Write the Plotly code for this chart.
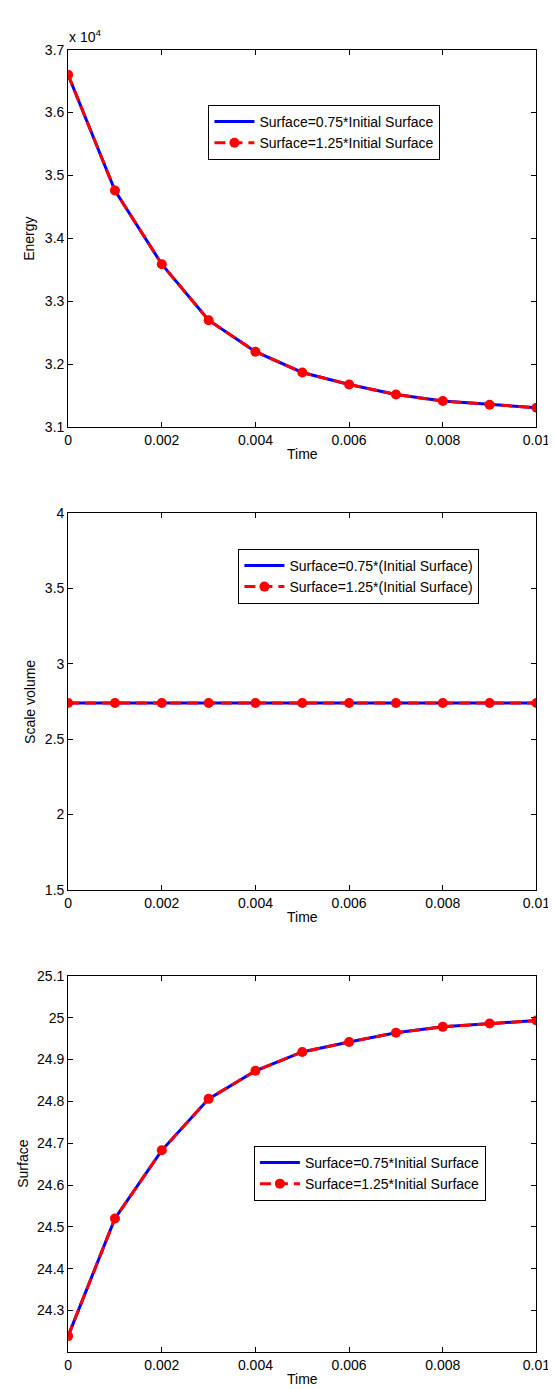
import plotly.graph_objects as go

# ---------------- data ----------------
time = [0, 0.001, 0.002, 0.003, 0.004, 0.005, 0.006, 0.007, 0.008, 0.009, 0.01]

energy_075 = [36600, 34760, 33590, 32700, 32200, 31870, 31680, 31520, 31415, 31357, 31310]
energy_125 = [36600, 34760, 33590, 32700, 32200, 31870, 31680, 31520, 31415, 31357, 31310]

volume_075 = [2.74, 2.74, 2.74, 2.74, 2.74, 2.74, 2.74, 2.74, 2.74, 2.74, 2.74]
volume_125 = [2.74, 2.74, 2.74, 2.74, 2.74, 2.74, 2.74, 2.74, 2.74, 2.74, 2.74]

surface_075 = [24.239, 24.52, 24.683, 24.806, 24.873, 24.918, 24.942, 24.964, 24.978, 24.986, 24.993]
surface_125 = [24.239, 24.52, 24.683, 24.806, 24.873, 24.918, 24.942, 24.964, 24.978, 24.986, 24.993]

x_ticks = [0, 0.002, 0.004, 0.006, 0.008, 0.01]
x_ticktext = ["0", "0.002", "0.004", "0.006", "0.008", "0.01"]

energy_ticks = [31000, 32000, 33000, 34000, 35000, 36000, 37000]
energy_ticktext = ["3.1", "3.2", "3.3", "3.4", "3.5", "3.6", "3.7"]

volume_ticks = [1.5, 2, 2.5, 3, 3.5, 4]
volume_ticktext = ["1.5", "2", "2.5", "3", "3.5", "4"]

surface_ticks = [24.3, 24.4, 24.5, 24.6, 24.7, 24.8, 24.9, 25.0, 25.1]
surface_ticktext = ["24.3", "24.4", "24.5", "24.6", "24.7", "24.8", "24.9", "25", "25.1"]

names1 = ["Surface=0.75*Initial Surface", "Surface=1.25*Initial Surface"]
names2 = ["Surface=0.75*(Initial Surface)", "Surface=1.25*(Initial Surface)"]
names3 = ["Surface=0.75*Initial Surface", "Surface=1.25*Initial Surface"]

# ---------------- layout geometry ----------------
W, H = 556, 1389
FONT = "Liberation Sans, Arial, sans-serif"
fs = 14

def px_x(p):
    return p / W

def px_y(p):
    return 1 - p / H

x_dom = [px_x(58), px_x(542)]
panels = [(34, 416), (503, 884), (971, 1352)]

fig = go.Figure()

blue = "rgb(0,0,255)"
red = "rgb(255,0,0)"

datasets = [
    (energy_075, energy_125, names1, "legend"),
    (volume_075, volume_125, names2, "legend2"),
    (surface_075, surface_125, names3, "legend3"),
]

for i, (a, b, names, lg) in enumerate(datasets):
    xa = "x" if i == 0 else f"x{i+1}"
    ya = "y" if i == 0 else f"y{i+1}"
    fig.add_trace(go.Scatter(x=time, y=a, mode="lines", name=names[0],
                             line=dict(color=blue, width=3),
                             xaxis=xa, yaxis=ya, legend=lg))
    fig.add_trace(go.Scatter(x=time, y=b, mode="lines+markers", name=names[1],
                             line=dict(color=red, width=3, dash="11px,6px"),
                             marker=dict(color=red, size=10, symbol="circle"),
                             xaxis=xa, yaxis=ya, legend=lg))

axis_common = dict(showline=True, linecolor="black", linewidth=1, mirror="ticks",
                   ticks="inside", ticklen=5, tickcolor="black", tickwidth=1,
                   showgrid=False, zeroline=False,
                   tickfont=dict(family=FONT, size=fs, color="black"))

yinfo = [
    (energy_ticks, energy_ticktext, [31000, 37000]),
    (volume_ticks, volume_ticktext, [1.5, 4]),
    (surface_ticks, surface_ticktext, [24.2, 25.1]),
]

layout = {}
for i, ((top, bot), (tv, tt, rng)) in enumerate(zip(panels, yinfo)):
    xk = "xaxis" if i == 0 else f"xaxis{i+1}"
    yk = "yaxis" if i == 0 else f"yaxis{i+1}"
    ya = "y" if i == 0 else f"y{i+1}"
    xa = "x" if i == 0 else f"x{i+1}"
    layout[xk] = dict(domain=x_dom, range=[0, 0.01], anchor=ya,
                      tickvals=x_ticks, ticktext=x_ticktext, **axis_common)
    layout[yk] = dict(domain=[px_y(bot), px_y(top)], range=rng, anchor=xa,
                      tickvals=tv, ticktext=tt, **axis_common)

fig.update_layout(**layout)

legend_common = dict(bgcolor="white", bordercolor="black", borderwidth=1,
                     font=dict(family=FONT, size=fs, color="black"),
                     xanchor="left", yanchor="top", tracegroupgap=0,
                     itemwidth=40)
fig.update_layout(
    legend=dict(x=px_x(203), y=px_y(90), **legend_common),
    legend2=dict(x=px_x(234), y=px_y(539), **legend_common),
    legend3=dict(x=px_x(250), y=px_y(1143), **legend_common),
)

annotations = []
ytitles = [("Energy", 18), ("Scale volume", 18), ("Surface", 11)]
for (top, bot), (txt, xc) in zip(panels, ytitles):
    annotations.append(dict(text=txt, x=px_x(xc), y=px_y((top + bot) / 2),
                            xref="paper", yref="paper", showarrow=False,
                            textangle=-90, xanchor="center", yanchor="middle",
                            font=dict(family=FONT, size=fs, color="black")))
    annotations.append(dict(text="Time", x=px_x(300), y=px_y(bot + 27),
                            xref="paper", yref="paper", showarrow=False,
                            xanchor="center", yanchor="middle",
                            font=dict(family=FONT, size=fs, color="black")))
annotations.append(dict(text="x 10<sup>4</sup>", x=px_x(57), y=px_y(31),
                        xref="paper", yref="paper", showarrow=False,
                        xanchor="left", yanchor="bottom",
                        font=dict(family=FONT, size=fs, color="black")))

fig.update_layout(width=W, height=H, margin=dict(l=0, r=0, t=0, b=0),
                  paper_bgcolor="white", plot_bgcolor="white",
                  annotations=annotations, showlegend=True)

fig.write_html("out.html")
